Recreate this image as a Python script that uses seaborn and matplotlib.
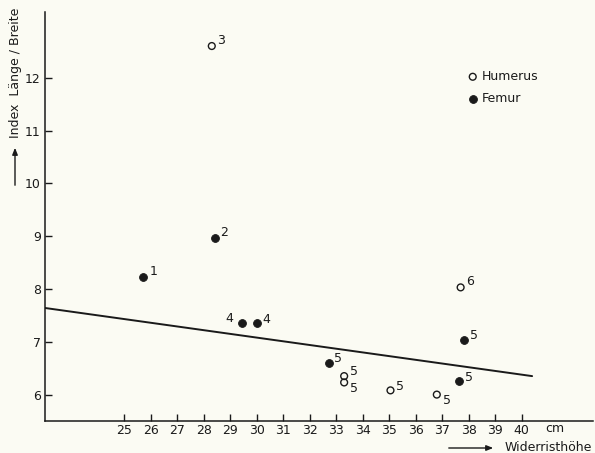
import matplotlib
matplotlib.use("Agg")
import matplotlib.pyplot as plt
import seaborn as sns
import pandas as pd

# Measurements: withers height (cm) vs. length/breadth index
humerus_x = [28.3, 37.7, 33.3, 33.3, 35.05, 36.8]
humerus_y = [12.6, 8.03, 6.35, 6.23, 6.08, 6.0]
humerus_lab = ["3", "6", "5", "5", "5", "5"]

femur_x = [25.72, 28.41, 29.43, 30.01, 32.71, 37.82, 37.64]
femur_y = [8.23, 8.97, 7.36, 7.35, 6.60, 7.04, 6.25]
femur_lab = ["1", "2", "4", "4", "5", "5", "5"]

# Regression line end points
trend_x = [22.0, 40.4]
trend_y = [7.64, 6.35]

x_ticks = list(range(25, 41))
y_ticks = list(range(6, 13))

# label offsets in points (dx, dy)
hum_off = [(7, 4), (7, 4), (7, 3), (7, -4), (7, 3), (7, -4)]
fem_off = [(7, 4), (7, 4), (-9, 3), (7, 3), (7, 3), (7, 3), (7, 3)]

sns.set_theme(style="white")
plt.rcParams["font.family"] = ["DejaVu Sans"]
bg = "#fbfbf3"
ink = "#1a1a1a"

df_h = pd.DataFrame({"x": humerus_x, "y": humerus_y, "bone": "Humerus"})
df_f = pd.DataFrame({"x": femur_x, "y": femur_y, "bone": "Femur"})

fig = plt.figure(figsize=(5.95, 4.53), dpi=100, facecolor=bg)
ax = fig.add_axes([45 / 595, 32 / 453, 548 / 595, 409.3 / 453])
ax.set_facecolor(bg)

sns.lineplot(x=trend_x, y=trend_y, ax=ax, color=ink, lw=1.4)
sns.scatterplot(data=df_h, x="x", y="y", ax=ax, marker="o", s=24,
                facecolor="none", edgecolor=ink, linewidth=1.0, label="Humerus")
sns.scatterplot(data=df_f, x="x", y="y", ax=ax, marker="o", s=32,
                color=ink, edgecolor=ink, linewidth=0.6, label="Femur")

for xs, ys, labs, offs in [(humerus_x, humerus_y, humerus_lab, hum_off),
                           (femur_x, femur_y, femur_lab, fem_off)]:
    for x, y, t, (dx, dy) in zip(xs, ys, labs, offs):
        ax.annotate(t, (x, y), xytext=(dx, dy), textcoords="offset points",
                    ha="center", va="center", fontsize=9, color=ink)

ax.set_xlim(22, 42.7)
ax.set_ylim(5.5, 13.25)
ax.set_xticks(x_ticks)
ax.set_yticks(y_ticks)
ax.tick_params(axis="both", direction="in", length=5, width=1.0, color=ink,
               labelsize=9, labelcolor=ink)
ax.tick_params(axis="x", bottom=True, pad=2)
ax.tick_params(axis="y", left=True, pad=3)
for s in ["top", "right"]:
    ax.spines[s].set_visible(False)
for s in ["left", "bottom"]:
    ax.spines[s].set_color(ink)
    ax.spines[s].set_linewidth(1.1)
ax.set_xlabel("")
ax.set_ylabel("")

leg = ax.legend(loc="center left", bbox_to_anchor=(0.76, 0.815), frameon=False,
                fontsize=9, handletextpad=0.2, labelspacing=0.7,
                handlelength=1.0, borderaxespad=0)
for t in leg.get_texts():
    t.set_color(ink)

# axis captions with arrows
fig.text(545 / 595, (453 - 429) / 453, "cm", fontsize=9, color=ink,
         ha="left", va="center")
fig.text(505 / 595, (453 - 447.5) / 453, "Widerristhöhe", fontsize=9,
         color=ink, ha="left", va="center")
fig.add_artist(matplotlib.patches.FancyArrowPatch(
    (446 / 595, (453 - 448) / 453), (496 / 595, (453 - 448) / 453),
    transform=fig.transFigure, arrowstyle="-|>,head_length=4,head_width=1.6",
    color=ink, lw=1.0, mutation_scale=1))
fig.text(15.5 / 595, (453 - 73) / 453, "Index  Länge / Breite", fontsize=9,
         color=ink, rotation=90, ha="center", va="center")
fig.add_artist(matplotlib.patches.FancyArrowPatch(
    (15 / 595, (453 - 188) / 453), (15 / 595, (453 - 145) / 453),
    transform=fig.transFigure, arrowstyle="-|>,head_length=4,head_width=1.6",
    color=ink, lw=1.0, mutation_scale=1))

fig.savefig("out.png", dpi=100, facecolor=bg)
